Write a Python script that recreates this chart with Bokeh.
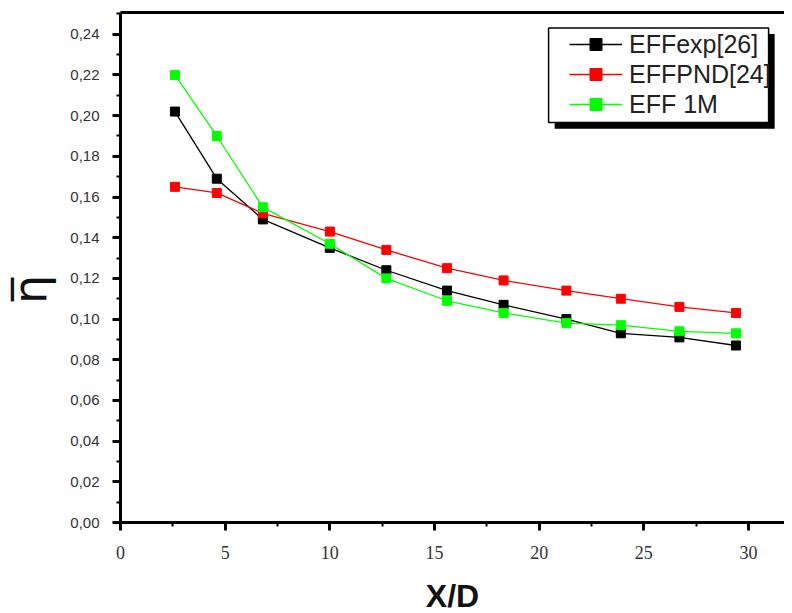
from bokeh.plotting import figure
from bokeh.models import (SingleIntervalTicker, CustomJSTickFormatter, Legend, LegendItem,
                          BoxAnnotation, Range1d, LinearAxis, FixedTicker)
from bokeh.embed import file_html
from bokeh.resources import INLINE

# ---- data ----
x_d = [2.6, 4.6, 6.8, 10.0, 12.7, 15.6, 18.3, 21.3, 23.9, 26.7, 29.4]
eff_exp = [0.202, 0.169, 0.149, 0.135, 0.124, 0.114, 0.107, 0.100, 0.093, 0.091, 0.087]
eff_pnd = [0.165, 0.162, 0.152, 0.143, 0.134, 0.125, 0.119, 0.114, 0.110, 0.106, 0.103]
eff_1m = [0.220, 0.190, 0.155, 0.137, 0.120, 0.109, 0.103, 0.098, 0.097, 0.094, 0.093]
series_names = ["EFFexp[26]", "EFFPND[24]", "EFF 1M"]
series_colors = ["#000000", "#ff0000", "#00ff00"]

p = figure(frame_width=664, frame_height=510, output_backend="svg", toolbar_location=None,
           x_range=Range1d(0, 31.72), y_range=Range1d(0, 0.2507),
           min_border_left=117, min_border_right=0, min_border_top=12, min_border_bottom=88)
p.outline_line_color = None
p.xgrid.visible = False
p.ygrid.visible = False
p.background_fill_color = "white"
p.border_fill_color = "white"

xa = p.below[0]
ya = p.left[0]

# top frame line (no ticks, no labels)
top_axis = LinearAxis(ticker=FixedTicker(ticks=[], minor_ticks=[]), axis_line_width=3,
                      axis_line_color="black", major_tick_out=0, major_tick_in=0,
                      minor_tick_out=0, minor_tick_in=0, major_label_standoff=0)
p.add_layout(top_axis, "above")

# legend frame with shadow
p.add_layout(BoxAnnotation(left=20.74, right=31.25, top=0.2401, bottom=0.1936,
                           fill_color="black", fill_alpha=1, line_color=None, level="underlay"))
p.add_layout(BoxAnnotation(left=20.45, right=30.96, top=0.2431, bottom=0.1966,
                           fill_color="white", fill_alpha=1, line_color="black",
                           line_width=1.5, line_alpha=1, level="underlay"))

items = []
for name, ys, col in zip(series_names, [eff_exp, eff_pnd, eff_1m], series_colors):
    lr = p.line(x_d, ys, line_color=col, line_width=1.3)
    sr = p.scatter(x_d, ys, marker="square", size=9, fill_color=col, line_color=col)
    items.append(LegendItem(label=name, renderers=[lr, sr]))

legend = Legend(items=items, location=(449, 403), glyph_width=53, glyph_height=30,
                label_height=30, spacing=0, padding=2, margin=0, label_standoff=7,
                label_text_font_size="25px", label_text_font="Liberation Sans",
                label_text_color="#222222",
                border_line_color=None, background_fill_alpha=0)
p.add_layout(legend)

for ax in (xa, ya):
    ax.axis_line_width = 3
    ax.major_tick_line_width = 3
    ax.minor_tick_line_width = 2
    ax.major_tick_in = 0
    ax.major_tick_out = 8
    ax.minor_tick_in = 0
    ax.minor_tick_out = 4

xa.ticker = SingleIntervalTicker(interval=5, num_minor_ticks=2)
ya.ticker = SingleIntervalTicker(interval=0.02, num_minor_ticks=2)
ya.formatter = CustomJSTickFormatter(code="return tick.toFixed(2).replace('.', ',');")

xa.major_label_text_font = "Liberation Serif"
xa.major_label_text_font_size = "18px"
xa.major_label_text_color = "#333333"
xa.major_label_standoff = 15
ya.major_label_text_font = "Liberation Sans"
ya.major_label_text_font_size = "15px"
ya.major_label_text_color = "#333333"
ya.major_label_standoff = 13

xa.axis_label = "X/D"
xa.axis_label_text_font = "Liberation Sans"
xa.axis_label_text_font_style = "bold"
xa.axis_label_text_font_size = "32px"
xa.axis_label_text_color = "#111111"
xa.axis_label_standoff = 16

ya.axis_label = "\u03b7\u0305\u00a0\u00a0\u00a0"
ya.axis_label_text_font = "DejaVu Sans"
ya.axis_label_text_font_style = "normal"
ya.axis_label_text_font_size = "46px"
ya.axis_label_text_color = "#111111"
ya.axis_label_standoff = 10

open("out.html", "w").write(file_html(p, INLINE))
